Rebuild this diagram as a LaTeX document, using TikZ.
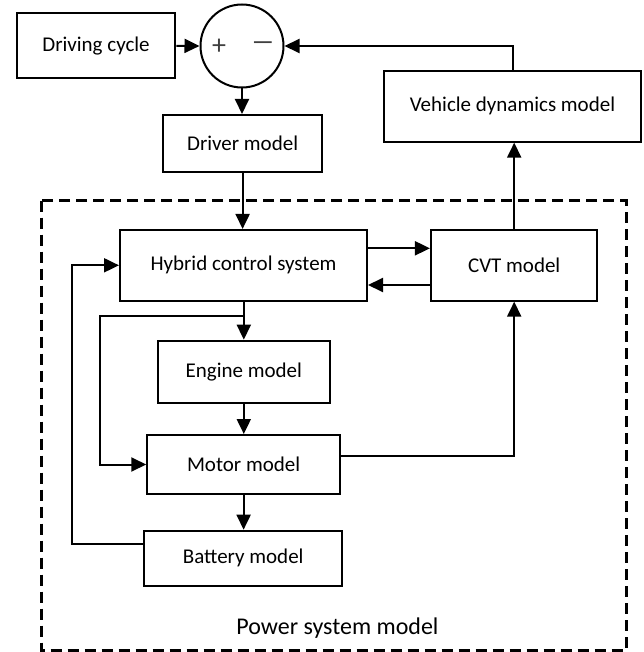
\documentclass[tikz,border=0pt]{standalone}
\usepackage{fontspec}
\setmainfont{Carlito}
\usetikzlibrary{arrows.meta}
\begin{document}
\begin{tikzpicture}[x=1pt,y=-1pt,
  box/.style={draw, line width=2pt, inner sep=0pt, align=center, font=\fontsize{21}{25}\selectfont},
  conn/.style={line width=2pt, -{Triangle[length=15pt,width=14pt]}},
  sign/.style={inner sep=0pt, text=black!75, font=\fontsize{28}{30}\selectfont}]
\useasboundingbox (0,0) rectangle (643,652);
% boxes
\node[box, minimum width=158.8pt, minimum height=65pt] (drive) at (96,45.8) {Driving cycle};
\node[draw, line width=2pt, circle, minimum size=83pt, inner sep=0pt] (sum) at (242,46) {};
\node[sign] (plus) at (219,46.7) {+};
\node[sign] (minus) at (263,46.7) {\scalebox{1.7}[1]{−}};
\node[box, minimum width=257pt, minimum height=70.7pt] (veh) at (512.5,106.3) {Vehicle dynamics model};
\node[box, minimum width=158.4pt, minimum height=57pt] (driver) at (242.6,143.5) {Driver model};
\node[box, minimum width=247pt, minimum height=70.7pt] (hybrid) at (243.5,265.3) {Hybrid control system};
\node[box, minimum width=166.5pt, minimum height=70.7pt] (cvt) at (514.2,265.3) {CVT model};
\node[box, minimum width=172.4pt, minimum height=62.3pt] (engine) at (243.8,371.8) {Engine model};
\node[box, minimum width=192.7pt, minimum height=59pt] (motor) at (243.6,464.5) {Motor model};
\node[box, minimum width=198.4pt, minimum height=55pt] (battery) at (243.2,558.2) {Battery model};
% dashed frame
\draw[line width=3pt, dash pattern=on 11pt off 6pt] (41,200.7) rectangle (626.3,650);
\node[inner sep=0pt, font=\fontsize{24}{28}\selectfont] (psm) at (337.4,628.3) {Power system model};
% connectors
\draw[conn] (drive.east) -- (sum.west);
\draw[conn] (veh.north) |- (sum.east);
\draw[conn] (sum.south) -- (sum.south |- driver.north);
\draw[conn] (driver.south) -- (driver.south |- hybrid.north);
\draw[conn] ([yshift=17pt]hybrid.east) -- ([yshift=17pt]cvt.west);
\draw[conn] ([yshift=-19.7pt]cvt.west) -- ([yshift=-19.7pt]hybrid.east);
\draw[conn] (cvt.north) -- (cvt.north |- veh.south);
\draw[conn] (hybrid.south -| engine.north) -- (engine.north);
\coordinate (br) at (243.8,315.7);
\draw[conn] (br) -- (100,315.7) |- (motor.west);
\draw[conn] (engine.south) -- (engine.south |- motor.north);
\draw[conn] ([yshift=9pt]motor.east) -| (cvt.south);
\draw[conn] (motor.south) -- (motor.south |- battery.north);
\draw[conn] ([yshift=14pt]battery.west) -- (72.4,544.2) |- (hybrid.west);
\end{tikzpicture}
\end{document}
